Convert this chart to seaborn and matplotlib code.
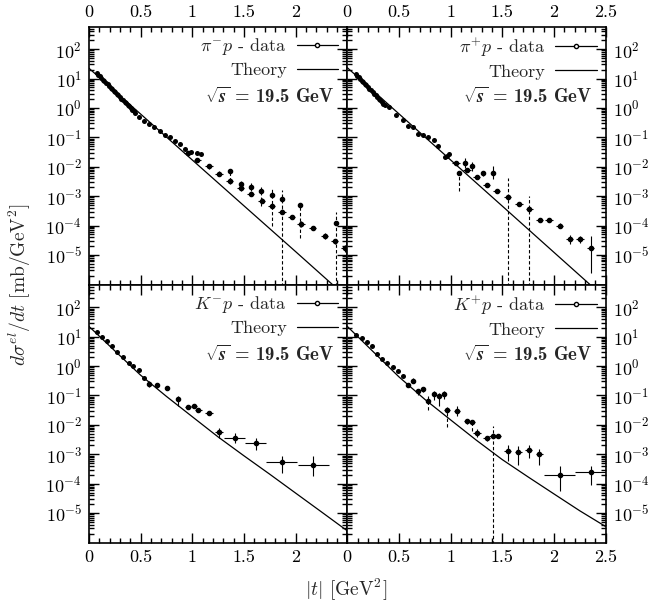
import numpy as np
import matplotlib
matplotlib.use('Agg')
import matplotlib.pyplot as plt
import seaborn as sns
from matplotlib.ticker import LogLocator, FixedLocator, NullFormatter, LogFormatterMathtext, MultipleLocator
from matplotlib.lines import Line2D

# ---- pi- p ----
pim_dense_t = [0.075, 0.09, 0.105, 0.12, 0.135, 0.15, 0.165, 0.18, 0.195, 0.21, 0.225, 0.24, 0.255,
               0.27, 0.285, 0.30, 0.315, 0.33, 0.345, 0.36, 0.375, 0.39, 0.405, 0.42, 0.435, 0.45,
               0.48, 0.529, 0.577, 0.632, 0.684, 0.736, 0.788, 0.837, 0.885, 0.934, 0.992, 1.041, 1.086]
pim_dense_y = [15.1, 13.4, 11.8, 10.4, 9.2, 8.1, 7.2, 6.4, 5.6, 4.95, 4.4, 3.9, 3.4,
               3.0, 2.67, 2.36, 2.08, 1.84, 1.62, 1.44, 1.27, 1.12, 0.99, 0.87, 0.77, 0.68,
               0.51, 0.37, 0.28, 0.22, 0.16, 0.123, 0.102, 0.078, 0.059, 0.041, 0.032, 0.030, 0.027]
pim_t = [0.957, 1.047, 1.161, 1.258, 1.362, 1.469, 1.566, 1.67, 1.767, 1.868, 1.962, 2.053, 2.166, 2.28,
         2.377, 2.474, 1.362, 1.469, 1.566, 1.663, 1.767, 1.868, 2.043, 2.393]
pim_y = [0.029, 0.017, 0.0102, 5.8e-3, 3.2e-3, 1.86e-3, 1.2e-3, 7.1e-4, 4.7e-4, 3.0e-4, 1.95e-4, 1.12e-4,
         8.1e-5, 4.5e-5, 2.9e-5, 1.7e-5, 7.4e-3, 2.6e-3, 2.1e-3, 1.55e-3, 1.1e-3, 8.1e-4, 5.1e-4, 1.2e-4]
pim_dt = [0.035, 0.035, 0.035, 0.035, 0.035, 0.035, 0.035, 0.035, 0.035, 0.035, 0.035, 0.035, 0.035, 0.035,
          0.035, 0.035, 0, 0, 0, 0, 0, 0, 0, 0]
pim_lo = [0.024, 0.0145, 0.0085, 4.8e-3, 2.5e-3, 1.45e-3, 1.0e-3, 5.8e-4, 3.9e-4, 2.5e-4, 1.65e-4, 9e-5,
          6.8e-5, 3.6e-5, 2.3e-5, 1.3e-5, 3.2e-3, 1.6e-3, 9.8e-4, 4.5e-4, 9.3e-5, 1e-7, 3.7e-5, 1e-7]
pim_hi = [0.035, 0.02, 0.0125, 7.0e-3, 4.1e-3, 2.4e-3, 1.45e-3, 8.6e-4, 5.6e-4, 3.6e-4, 2.3e-4, 1.4e-4,
          9.6e-5, 5.5e-5, 3.6e-5, 2.2e-5, 8.3e-3, 3.2e-3, 2.75e-3, 2.1e-3, 1.86e-3, 1.64e-3, 6.0e-4, 2.8e-4]
pim_dash = [0, 0, 0, 0, 0, 0, 0, 0, 0, 0, 0, 0, 0, 0, 0, 0, 1, 1, 1, 1, 1, 1, 1, 1]
pim_th_t = [0, 0.5, 1.0, 1.5, 2.0, 2.5]
pim_th_y = [22.4, 0.62, 0.017, 4.7e-4, 1.3e-5, 3.5e-7]

# ---- pi+ p ----
pip_dense_t = [0.08, 0.095, 0.11, 0.125, 0.14, 0.155, 0.17, 0.185, 0.20, 0.215, 0.23, 0.245, 0.26, 0.275,
               0.29, 0.305, 0.32, 0.335, 0.35, 0.365, 0.402, 0.473, 0.537, 0.586, 0.634, 0.689, 0.737,
               0.785, 0.837, 0.882, 0.946, 0.965, 0.988]
pip_dense_y = [14.3, 12.6, 11.1, 9.7, 8.5, 7.5, 6.6, 5.8, 5.1, 4.47, 3.93, 3.44, 3.03, 2.66,
               2.34, 2.05, 1.80, 1.58, 1.39, 1.22, 1.06, 0.58, 0.39, 0.245, 0.22, 0.13, 0.117,
               0.101, 0.082, 0.051, 0.022, 0.0235, 0.0275]
pip_t = [1.052, 1.158, 1.252, 1.348, 1.445, 1.551, 1.663, 1.76, 1.863, 1.953, 2.056, 2.152, 2.252, 2.355,
         1.084, 1.139, 1.207, 1.31, 1.412]
pip_y = [0.0138, 7.8e-3, 4.4e-3, 2.4e-3, 1.55e-3, 9.7e-4, 5.5e-4, 3.7e-4, 1.56e-4, 1.56e-4, 1.0e-4, 3.4e-5,
         3.4e-5, 1.66e-5, 6.3e-3, 0.0138, 0.0102, 6.0e-3, 6.0e-3]
pip_dt = [0.035, 0.035, 0.035, 0.035, 0.035, 0.035, 0.035, 0.035, 0.035, 0.035, 0.035, 0.035, 0.035, 0.035,
          0, 0, 0, 0, 0]
pip_lo = [0.012, 6.6e-3, 3.8e-3, 2.1e-3, 1.35e-3, 1e-7, 4.7e-4, 1e-7, 1.35e-4, 1.35e-4, 8.5e-5, 2.4e-5,
          2.5e-5, 2.5e-6, 1.45e-3, 8.9e-3, 6.9e-3, 5e-3, 3.8e-3]
pip_hi = [0.016, 9.2e-3, 5.1e-3, 2.8e-3, 1.8e-3, 4.1e-3, 6.4e-4, 9.8e-4, 1.8e-4, 1.8e-4, 1.2e-4, 4.6e-5,
          4.5e-5, 4.3e-5, 6.6e-3, 0.0195, 0.015, 7e-3, 0.0102]
pip_dash = [0, 0, 0, 0, 0, 1, 0, 1, 0, 0, 0, 0, 0, 0, 1, 0, 0, 0, 0]
pip_th_t = [0, 0.5, 1.0, 1.5, 2.0, 2.5]
pip_th_y = [23.4, 0.63, 0.017, 4.6e-4, 1.23e-5, 3.3e-7]

# ---- K- p ----
km_dense_t = [0.081, 0.123, 0.172, 0.227, 0.276, 0.327, 0.383, 0.431, 0.48, 0.529]
km_dense_y = [14.0, 9.5, 7.3, 4.7, 3.0, 2.04, 1.27, 1.03, 0.76, 0.39]
km_t = [0.577, 0.658, 0.755, 0.859, 0.957, 1.015, 1.057, 1.161, 1.258, 1.41, 1.615, 1.865, 2.17]
km_y = [0.245, 0.22, 0.18, 0.078, 0.040, 0.043, 0.031, 0.026, 5.7e-3, 3.7e-3, 2.4e-3, 5.4e-4, 4.2e-4]
km_dt = [0, 0, 0, 0, 0.03, 0.03, 0.035, 0.04, 0.04, 0.1, 0.1, 0.15, 0.15]
km_lo = [0.2, 0.18, 0.15, 0.043, 0.035, 0.037, 0.027, 0.022, 3.6e-3, 2.4e-3, 1.45e-3, 2.3e-4, 1.8e-4]
km_hi = [0.3, 0.26, 0.21, 0.093, 0.046, 0.05, 0.036, 0.03, 7.9e-3, 5.3e-3, 3.6e-3, 8.5e-4, 8.5e-4]
km_dash = [0, 0, 0, 0, 0, 0, 0, 0, 0, 0, 0, 0, 0]
km_th_t = [0, 0.25, 0.5, 0.75, 1.0, 1.25, 1.5, 1.75, 2.0, 2.25, 2.5]
km_th_y = [22.4, 3.3, 0.49, 0.093, 0.019, 3.9e-3, 8.9e-4, 2.1e-4, 4.8e-5, 1.1e-5, 2.5e-6]

# ---- K+ p ----
kp_dense_t = [0.087, 0.142, 0.193, 0.241, 0.286, 0.335, 0.386, 0.441, 0.489, 0.537]
kp_dense_y = [11.8, 9.0, 6.6, 4.7, 2.57, 1.78, 1.27, 0.91, 0.66, 0.47]
kp_t = [0.586, 0.634, 0.689, 0.737, 0.785, 0.837, 0.885, 0.933, 0.965, 1.062, 1.158, 1.207, 1.255, 1.351,
        1.406, 1.454, 1.551, 1.657, 1.754, 1.857, 2.056, 2.355]
kp_y = [0.22, 0.32, 0.138, 0.17, 0.066, 0.112, 0.093, 0.112, 0.033, 0.029, 0.0132, 0.0123, 5.2e-3, 3.5e-3,
        4.1e-3, 4.1e-3, 1.32e-3, 1.2e-3, 1.45e-3, 1.03e-3, 2.0e-4, 2.5e-4]
kp_dt = [0, 0, 0, 0, 0, 0, 0, 0, 0.03, 0.03, 0.03, 0.03, 0.035, 0.035, 0.03, 0.035, 0.035, 0.035, 0.035,
         0.035, 0.15, 0.15]
kp_lo = [0.19, 0.27, 0.105, 0.13, 0.033, 0.072, 0.043, 0.077, 8.3e-3, 0.0195, 0.011, 6e-3, 3.8e-3, 2.9e-3,
         1e-7, 3.5e-3, 5.8e-4, 4.4e-4, 7.4e-4, 4.4e-4, 5.5e-5, 9.3e-5]
kp_hi = [0.25, 0.38, 0.17, 0.2, 0.093, 0.138, 0.122, 0.138, 0.04, 0.043, 0.016, 0.014, 7e-3, 4.2e-3,
         8.9e-3, 4.8e-3, 2.1e-3, 1.9e-3, 2.1e-3, 1.55e-3, 3.9e-4, 3.9e-4]
kp_dash = [0, 0, 0, 0, 1, 0, 0, 0, 1, 0, 0, 1, 0, 0, 1, 0, 0, 0, 0, 0, 0, 0]
kp_th_t = [0, 0.25, 0.5, 0.75, 1.0, 1.25, 1.5, 1.75, 2.0, 2.25, 2.5]
kp_th_y = [22.4, 3.1, 0.43, 0.074, 0.0148, 3.0e-3, 6.6e-4, 1.7e-4, 4.5e-5, 1.2e-5, 3.5e-6]

labels = [r'$\pi^{-}p$ - data', r'$\pi^{+}p$ - data', r'$K^{-}p$ - data', r'$K^{+}p$ - data']
yticks = [1e-5, 1e-4, 1e-3, 1e-2, 1e-1, 1e0, 1e1, 1e2]
xticks = [0, 0.5, 1.0, 1.5, 2.0, 2.5]

sns.set_style('ticks')
plt.rcParams['font.family'] = 'serif'
plt.rcParams['font.serif'] = ['cmr10']
plt.rcParams['mathtext.fontset'] = 'cm'
plt.rcParams['axes.formatter.use_mathtext'] = True
plt.rcParams['axes.unicode_minus'] = False
plt.rcParams['axes.edgecolor'] = 'black'
plt.rcParams['xtick.color'] = 'black'
plt.rcParams['ytick.color'] = 'black'


def draw_panel(ax, dense_t, dense_y, t, y, dt, lo, hi, dash, th_t, th_y, label, top, left):
    t = np.array(t); y = np.array(y); dt = np.array(dt)
    lo = np.array(lo); hi = np.array(hi); dash = np.array(dash) == 1

    ax.set_yscale('log')
    sns.lineplot(x=th_t, y=th_y, ax=ax, color='black', lw=0.9, estimator=None, legend=False)
    sns.scatterplot(x=dense_t, y=dense_y, ax=ax, color='black', s=13, linewidth=0, legend=False)

    sol = ~dash
    ax.errorbar(t[sol], y[sol], xerr=dt[sol], yerr=[y[sol] - lo[sol], hi[sol] - y[sol]],
                fmt='o', ms=3.0, color='black', elinewidth=0.8, capsize=0)
    ax.errorbar(t[dash], y[dash], xerr=dt[dash], fmt='o', ms=3.0, color='black',
                elinewidth=0.8, capsize=0)
    ax.vlines(t[dash], lo[dash], hi[dash], colors='black', linestyles=(0, (3, 2)), lw=0.8)

    ax.set_xlim(0, 2.5)
    ax.set_ylim(9.5e-7, 5.7e2)
    ax.yaxis.set_major_locator(FixedLocator(yticks))
    ax.yaxis.set_minor_locator(LogLocator(base=10, subs=np.arange(2, 10), numticks=100))
    ax.yaxis.set_major_formatter(LogFormatterMathtext())
    ax.yaxis.set_minor_formatter(NullFormatter())
    ax.xaxis.set_major_locator(FixedLocator(xticks))
    ax.xaxis.set_minor_locator(MultipleLocator(0.1))
    if left:
        ax.set_xticklabels(['0', '0.5', '1', '1.5', '2', ''])
    else:
        ax.set_xticklabels(['0', '0.5', '1', '1.5', '2', '2.5'])

    ax.tick_params(which='both', direction='in', top=True, bottom=True, left=True, right=True,
                   width=1.0, labelsize=13, pad=5,
                   labeltop=top, labelbottom=not top, labelleft=left, labelright=not left)
    ax.tick_params(which='major', length=7)
    ax.tick_params(which='minor', length=3.5)
    for sp in ax.spines.values():
        sp.set_linewidth(1.2)

    handles = [Line2D([], [], color='black', marker='o', ms=3.0, mfc='white', mew=1.0, lw=0.9),
               Line2D([], [], color='black', lw=0.9)]
    ax.legend(handles, [label, 'Theory'], loc='upper right', markerfirst=False, frameon=False,
              handlelength=2.3, fontsize=13, borderaxespad=0.2, borderpad=0.3,
              labelspacing=0.3, handletextpad=0.55)
    ax.text(0.95, 0.73, r'$\sqrt{\mathbfit{s}}$ = 19.5 GeV', transform=ax.transAxes,
            ha='right', va='center', fontsize=13.5, family='cmb10')


fig, axes = plt.subplots(2, 2, figsize=(6.54, 6.11), dpi=100)
fig.subplots_adjust(left=0.136, right=0.926, top=0.956, bottom=0.111, wspace=0, hspace=0)

draw_panel(axes[0, 0], pim_dense_t, pim_dense_y, pim_t, pim_y, pim_dt, pim_lo, pim_hi, pim_dash,
           pim_th_t, pim_th_y, labels[0], True, True)
draw_panel(axes[0, 1], pip_dense_t, pip_dense_y, pip_t, pip_y, pip_dt, pip_lo, pip_hi, pip_dash,
           pip_th_t, pip_th_y, labels[1], True, False)
draw_panel(axes[1, 0], km_dense_t, km_dense_y, km_t, km_y, km_dt, km_lo, km_hi, km_dash,
           km_th_t, km_th_y, labels[2], False, True)
draw_panel(axes[1, 1], kp_dense_t, kp_dense_y, kp_t, kp_y, kp_dt, kp_lo, kp_hi, kp_dash,
           kp_th_t, kp_th_y, labels[3], False, False)

fig.text(0.031, 0.534, r'$d\sigma^{el}/dt$ [mb/GeV$^2$]', rotation=90, ha='center', va='center', fontsize=14)
fig.text(0.529, 0.034, r'$|t|$ [GeV$^2$]', ha='center', va='center', fontsize=14)

fig.savefig('out.png', dpi=100)
